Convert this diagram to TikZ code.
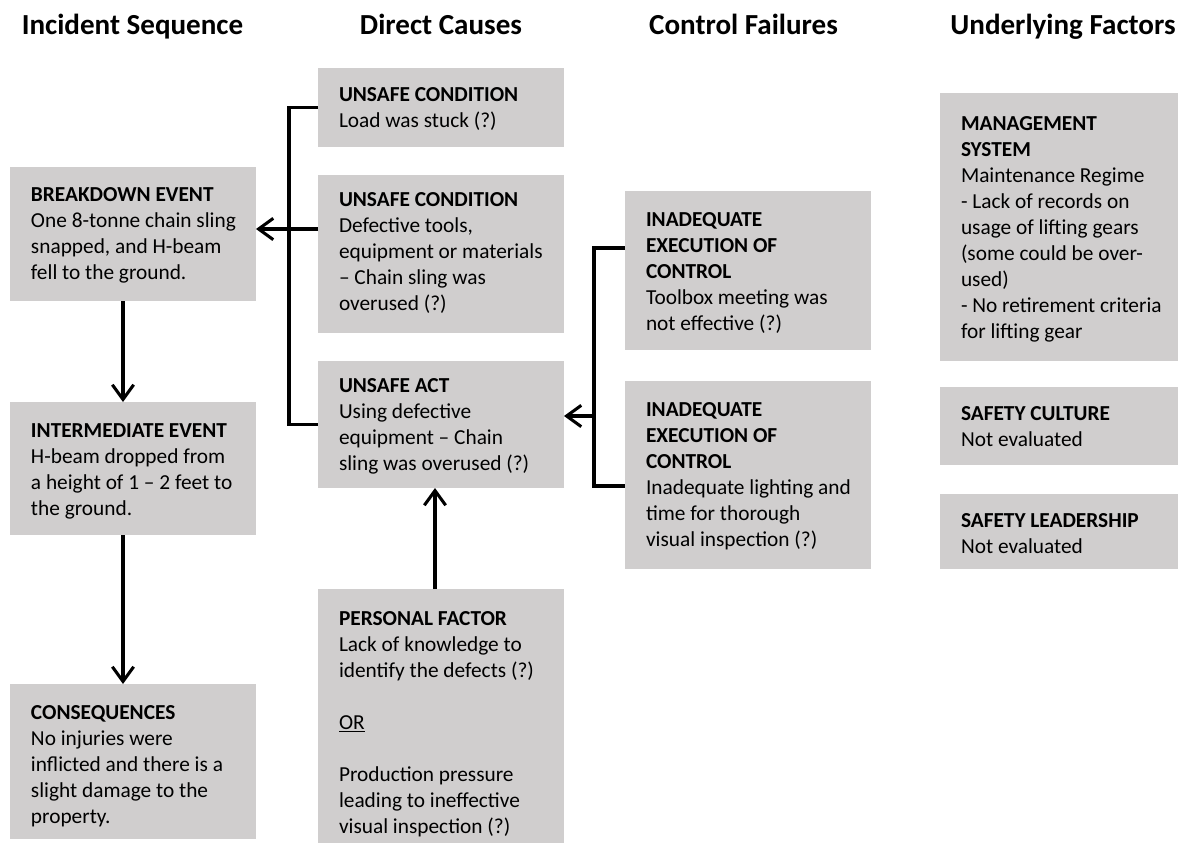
\documentclass[tikz,border=0pt]{standalone}
\usepackage{fontspec}
\setmainfont{Carlito}
\usetikzlibrary{arrows.meta}
\definecolor{boxgray}{HTML}{D0CECE}
\tikzset{
  gbox/.style={rectangle, fill=boxgray, draw=none, inner sep=0pt, outer sep=0pt},
  txt/.style={anchor=north west, inner sep=0pt, outer sep=0pt, align=left, text=black,
    font=\fontsize{16pt}{19.5pt}\selectfont},
  hdr/.style={anchor=base, inner sep=0pt, font=\fontsize{21.8pt}{26pt}\selectfont\bfseries},
  ln/.style={line width=2.3pt, draw=black},
  arr/.style={line width=2.3pt, draw=black, -{Straight Barb[length=11pt,width=16pt,line width=2.3pt]}}
}
\newcommand\gbox[5]{%
  \node[gbox, minimum width={(#4-#2)*0.75pt}, minimum height={(#5-#3)*0.75pt}] (#1) at ({(#2+#4)/2},{(#3+#5)/2}) {};}
\begin{document}
\begin{tikzpicture}[x=0.75pt,y=-0.75pt]
\useasboundingbox (0,0) rectangle (1178,843);
% headers
\node[hdr] (h1) at (132.5,34) {Incident Sequence};
\node[hdr] (h2) at (441,34) {Direct Causes};
\node[hdr] (h3) at (743.5,34) {Control Failures};
\node[hdr] (h4) at (1063,34) {Underlying Factors};
% boxes
\gbox{bd}{10}{167}{256}{301}
\gbox{ie}{10}{402}{256}{535}
\gbox{cq}{10}{684}{256}{839}
\gbox{uca}{318}{68}{564}{147}
\gbox{ucb}{318}{175}{564}{333}
\gbox{ua}{318}{361}{564}{488}
\gbox{pf}{318}{589}{564}{843}
\gbox{cfa}{625}{191}{871}{350}
\gbox{cfb}{625}{381}{871}{569}
\gbox{ms}{940}{93}{1178}{361}
\gbox{sc}{940}{387}{1178}{465}
\gbox{sl}{940}{494}{1178}{569}
% texts
\node[txt] (bdt) at (31,188) {\textbf{BREAKDOWN EVENT}\\One 8-tonne chain sling\\snapped, and H-beam\\fell to the ground.};
\node[txt] (iet) at (31,424) {\textbf{INTERMEDIATE EVENT}\\H-beam dropped from\\a height of 1 -- 2 feet to\\the ground.};
\node[txt] (cqt) at (31,705) {\textbf{CONSEQUENCES}\\No injuries were\\inflicted and there is a\\slight damage to the\\property.};
\node[txt] (ucat) at (339,88) {\textbf{UNSAFE CONDITION}\\Load was stuck (?)};
\node[txt] (ucbt) at (339,193) {\textbf{UNSAFE CONDITION}\\Defective tools,\\equipment or materials\\-- Chain sling was\\overused (?)};
\node[txt] (uat) at (339,379) {\textbf{UNSAFE ACT}\\Using defective\\equipment -- Chain\\sling was overused (?)};
\node[txt] (pft) at (339,611) {\textbf{PERSONAL FACTOR}\\Lack of knowledge to\\identify the defects (?)\\\mbox{}\\\underline{OR}\\\mbox{}\\Production pressure\\leading to ineffective\\visual inspection (?)};
\node[txt] (cfat) at (646,213) {\textbf{INADEQUATE}\\\textbf{EXECUTION OF}\\\textbf{CONTROL}\\Toolbox meeting was\\not effective (?)};
\node[txt] (cfbt) at (646,403) {\textbf{INADEQUATE}\\\textbf{EXECUTION OF}\\\textbf{CONTROL}\\Inadequate lighting and\\time for thorough\\visual inspection (?)};
\node[txt] (mst) at (961,117) {\textbf{MANAGEMENT}\\\textbf{SYSTEM}\\Maintenance Regime\\- Lack of records on\\usage of lifting gears\\(some could be over-\\used)\\- No retirement criteria\\for lifting gear};
\node[txt] (sct) at (961,407) {\textbf{SAFETY CULTURE}\\Not evaluated};
\node[txt] (slt) at (961,514) {\textbf{SAFETY LEADERSHIP}\\Not evaluated};
% helper coordinates
\coordinate (xl) at (289,0);
\coordinate (xr) at (594,0);
\coordinate (xa) at (123,0);
\coordinate (xp) at (435,0);
\coordinate (ya) at (0,229);
\coordinate (yb) at (0,416);
\coordinate (yc) at (0,248);
\coordinate (yd) at (0,486);
% connectors
\draw[ln] (uca.west) -| (xl |- ua.west) -- (ua.west);
\draw[arr] (ucb.west |- ya) -- (bd.east |- ya);
\draw[arr] (bd.south -| xa) -- (ie.north -| xa);
\draw[arr] (ie.south -| xa) -- (cq.north -| xa);
\draw[arr] (pf.north -| xp) -- (ua.south -| xp);
\draw[ln] (cfa.west |- yc) -| (xr |- yd) -- (cfb.west |- yd);
\draw[arr] (xr |- yb) -- (ua.east |- yb);
\end{tikzpicture}
\end{document}
